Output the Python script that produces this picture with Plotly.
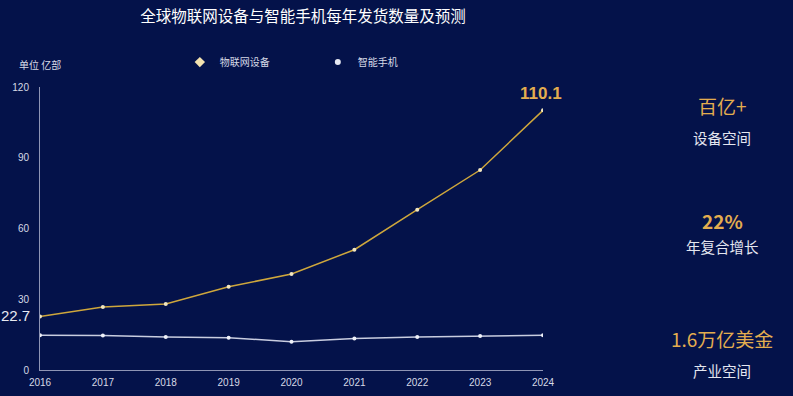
import plotly.graph_objects as go

years = [2016, 2017, 2018, 2019, 2020, 2021, 2022, 2023, 2024]
iot = [22.7, 26.7, 28.0, 35.3, 40.7, 51.0, 68.0, 84.8, 110.1]
phone = [14.7, 14.6, 14.0, 13.7, 12.0, 13.4, 14.0, 14.4, 14.7]
series_names = ["物联网设备", "智能手机"]
y_ticks = [0, 30, 60, 90, 120]
title_text = "全球物联网设备与智能手机每年发货数量及预测"
unit_text = "单位 亿部"
side_big = ["百亿+", "<b>22%</b>", "1.6万亿美金"]
side_small = ["设备空间", "年复合增长", "产业空间"]

GOLD = "#cfa73c"
GOLD_TXT = "#e3ad4f"
PHONE = "#c9cde0"
TXT = "#d6d9e6"
CJK = "Noto Sans CJK SC"
NUM = "Liberation Sans"

fig = go.Figure()
fig.add_trace(go.Scatter(x=years, y=iot, mode="lines+markers", name=series_names[0],
                         line=dict(color=GOLD, width=1.5),
                         marker=dict(size=4, color="#f2e6c0"), showlegend=False))
fig.add_trace(go.Scatter(x=years, y=phone, mode="lines+markers", name=series_names[1],
                         line=dict(color=PHONE, width=1.5),
                         marker=dict(size=4, color="#eef0f8"), showlegend=False))
# legend-only entries (marker symbol only)
fig.add_trace(go.Scatter(x=[None], y=[None], mode="markers", name=series_names[0],
                         marker=dict(symbol="diamond", size=8, color="#f3e2b0")))
fig.add_trace(go.Scatter(x=[None], y=[None], mode="markers", name=series_names[1],
                         marker=dict(symbol="circle", size=6, color="#e6e8f2")))

fig.add_annotation(x=years[-1], y=iot[-1], text=f"<b>{iot[-1]}</b>", showarrow=False,
                   xanchor="center", yshift=17, xshift=-2,
                   font=dict(size=17, color=GOLD_TXT, family=NUM))
fig.add_annotation(x=0, xref="paper", y=iot[0], text=f"{iot[0]}", showarrow=False,
                   xanchor="right", xshift=-8, yshift=1, font=dict(size=15, color="#e8eaf2", family=NUM))
fig.add_annotation(x=0, xref="paper", xanchor="center", y=1.078, yref="paper",
                   yanchor="middle", text=unit_text, showarrow=False,
                   font=dict(size=10, color=TXT, family=CJK))

big_y = [0.936, 0.527, 0.113]
small_y = [0.823, 0.435, 0.0]
for t, yy in zip(side_big, big_y):
    fig.add_annotation(x=1.356, xref="paper", y=yy, yref="paper", text=t, showarrow=False,
                       xanchor="center", yanchor="middle",
                       font=dict(size=19, color=GOLD_TXT, family=CJK))
for t, yy in zip(side_small, small_y):
    fig.add_annotation(x=1.356, xref="paper", y=yy, yref="paper", text=t, showarrow=False,
                       xanchor="center", yanchor="middle",
                       font=dict(size=14.5, color="#e4e6f0", family=CJK))

fig.update_layout(
    width=793, height=396,
    margin=dict(l=40, r=250, t=87, b=26, autoexpand=False),
    paper_bgcolor="#04124a", plot_bgcolor="rgba(0,0,0,0)",
    title=dict(text=title_text, x=(303 - 40) / 503, xref="paper", xanchor="center",
               y=1 - 17 / 396, yanchor="middle",
               font=dict(size=15.5, color="#ffffff", family=CJK)),
    font=dict(family=NUM, color=TXT, size=10),
    legend=dict(orientation="h", x=0.278, xanchor="left", y=1.088, yanchor="middle",
                font=dict(size=10, color=TXT, family=CJK), bgcolor="rgba(0,0,0,0)",
                entrywidth=93, itemwidth=30),
    xaxis=dict(range=[years[0], years[-1]], tickvals=years, ticktext=[str(y) for y in years],
               showgrid=False, zeroline=False, showline=True, linecolor="#8f95b5", linewidth=1,
               ticks="", tickfont=dict(size=10, color=TXT, family=NUM), ticklabelstandoff=3,
               automargin=False),
    yaxis=dict(range=[0, 120], tickvals=y_ticks, showgrid=False, zeroline=False,
               showline=True, linecolor="#8f95b5", linewidth=1, ticks="",
               tickfont=dict(size=10, color=TXT, family=NUM), ticklabelstandoff=8,
               automargin=False),
)

fig.write_html("out.html", config={"displayModeBar": False},
               post_script="document.body.style.margin='0';document.body.style.background='#04124a';")
